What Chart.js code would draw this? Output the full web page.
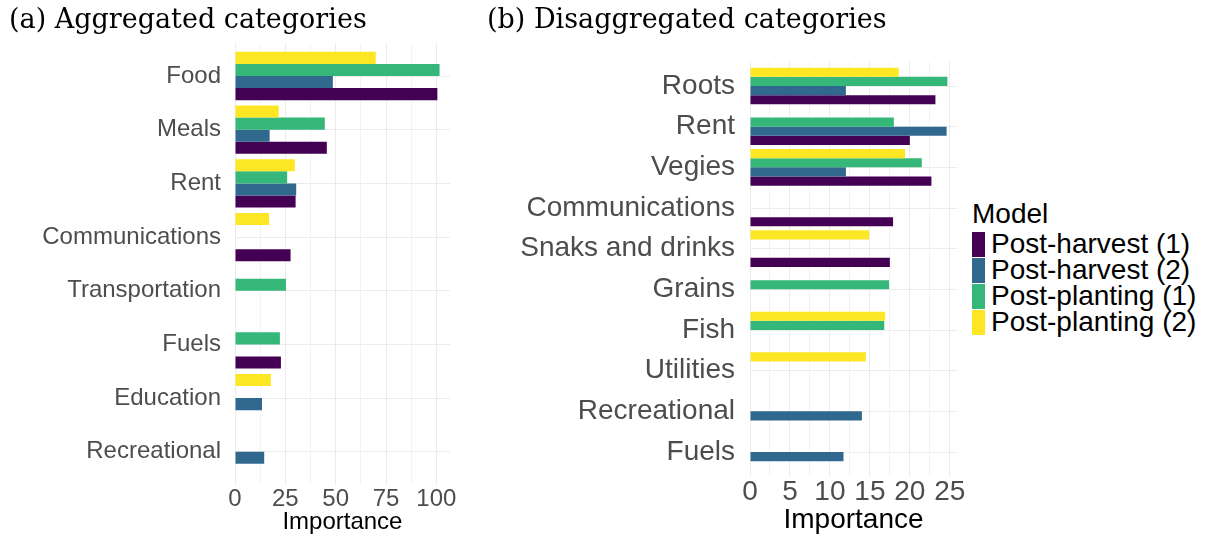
<!DOCTYPE html>
<html>
<head>
<meta charset="utf-8">
<script src="https://cdn.jsdelivr.net/npm/chart.js@4.4.1/dist/chart.umd.min.js"></script>
<style>
html, body { margin: 0; padding: 0; background: #fff; }
body { width: 1207px; height: 535px; position: relative; overflow: hidden; font-family: "Liberation Sans", Arial, sans-serif; }
#panelA { position: absolute; left: 9px; top: 0; }
#panelB { position: absolute; left: 487px; top: 0; }
#legend { position: absolute; left: 972px; top: 199px; color: #000; }
#legend .ttl { font-size: 28px; line-height: 30px; margin-bottom: 2px; }
#legend .row { height: 26px; line-height: 26px; font-size: 28px; display: flex; align-items: center; white-space: nowrap; }
#legend .key { width: 13px; height: 25px; margin-right: 6px; }
</style>
</head>
<body>
<canvas id="panelA" width="451" height="535"></canvas>
<canvas id="panelB" width="483" height="535"></canvas>
<div id="legend"></div>
<script>
// series, in legend order
const seriesNames = ["Post-harvest (1)", "Post-harvest (2)", "Post-planting (1)", "Post-planting (2)"];
const seriesColors = ["#440154", "#31688E", "#35B779", "#FDE725"];

// (a) aggregated
const aggCategories = ["Food", "Meals", "Rent", "Communications", "Transportation", "Fuels", "Education", "Recreational"];
const aggHarvest1  = [100.5, 45.6, 30.1, 27.6, null, 22.8, null, null];
const aggHarvest2  = [48.6, 17.2, 30.4, null, null, null, 13.4, 14.5];
const aggPlanting1 = [101.6, 44.6, 25.9, null, 25.3, 22.3, null, null];
const aggPlanting2 = [69.9, 21.7, 29.7, 16.9, null, null, 17.8, null];
const aggTicks = [0, 25, 50, 75, 100];

// (b) disaggregated
const disCategories = ["Roots", "Rent", "Vegies", "Communications", "Snaks and drinks", "Grains", "Fish", "Utilities", "Recreational", "Fuels"];
const disHarvest1  = [23.2, 20.0, 22.7, 17.9, 17.5, null, null, null, null, null];
const disHarvest2  = [12.0, 24.6, 12.0, null, null, null, null, null, 14.0, 11.7];
const disPlanting1 = [24.7, 18.0, 21.5, null, null, 17.4, 16.8, null, null, null];
const disPlanting2 = [18.6, null, 19.4, null, 14.9, null, 16.9, 14.5, null, null];
const disTicks = [0, 5, 10, 15, 20, 25];

const tickGrey = "#4d4d4d";
const gridMajor = "#ebebeb";
const gridMinor = "#f3f3f3";

// legend
const legend = document.getElementById("legend");
legend.innerHTML = '<div class="ttl">Model</div>' + seriesNames.map((n, i) =>
    `<div class="row"><span class="key" style="background:${seriesColors[i]}"></span>${n}</div>`).join("");

function makeChart(id, p) {
    // top-to-bottom inside a group: Post-planting (2), Post-planting (1), Post-harvest (2), Post-harvest (1)
    const datasets = [3, 2, 1, 0].map(s => ({
        label: seriesNames[s],
        backgroundColor: seriesColors[s],
        borderWidth: 0,
        categoryPercentage: 0.9,
        barPercentage: 1,
        data: p.values[s].map((v, i) => v == null ? null : { x: v, y: i }).filter(d => d)
    }));
    const minorStep = p.labels[1] / 2;
    const n = p.cats.length;

    return new Chart(document.getElementById(id), {
        type: 'bar',
        data: { datasets },
        options: {
            indexAxis: 'y',
            responsive: false,
            animation: false,
            layout: { padding: { right: p.padRight } },
            plugins: {
                legend: { display: false },
                tooltip: { enabled: false },
                title: {
                    display: true,
                    text: p.title,
                    align: 'start',
                    color: '#000',
                    font: { family: "'DejaVu Serif', serif", size: 27, weight: 'normal', lineHeight: 1.2 },
                    padding: { top: 5, bottom: p.titleGap }
                }
            },
            scales: {
                y: {
                    type: 'linear',
                    reverse: true,
                    offset: false,
                    min: -0.6,
                    max: n - 0.4,
                    afterFit: s => { s.width = p.yWidth; },
                    afterBuildTicks: s => { s.ticks = p.cats.map((c, i) => ({ value: i })); },
                    border: { display: false },
                    grid: { color: gridMajor, drawTicks: false, offset: false },
                    ticks: {
                        autoSkip: false,
                        padding: p.yPad,
                        color: tickGrey,
                        font: { family: "'Liberation Sans', Arial, sans-serif", size: p.font },
                        callback: v => p.cats[v]
                    }
                },
                x: {
                    type: 'linear',
                    min: 0,
                    max: p.xMax,
                    afterFit: s => { s.height = p.xHeight; },
                    afterBuildTicks: s => {
                        const t = [];
                        for (let v = 0; v <= p.labels[p.labels.length - 1]; v += minorStep) t.push({ value: v });
                        s.ticks = t;
                    },
                    border: { display: false },
                    grid: {
                        drawTicks: false,
                        color: c => (p.labels.includes(c.tick.value) ? gridMajor : gridMinor)
                    },
                    ticks: {
                        autoSkip: false,
                        maxRotation: 0,
                        padding: p.xPad,
                        color: tickGrey,
                        font: { family: "'Liberation Sans', Arial, sans-serif", size: p.font, lineHeight: 1 },
                        callback: v => (p.labels.includes(v) ? String(v) : '')
                    },
                    title: {
                        display: true,
                        text: 'Importance',
                        color: '#000',
                        padding: 0,
                        font: { family: "'Liberation Sans', Arial, sans-serif", size: p.font, lineHeight: 1.05 }
                    }
                }
            }
        }
    });
}

makeChart('panelA', {
    title: '(a) Aggregated categories',
    cats: aggCategories,
    values: [aggHarvest1, aggHarvest2, aggPlanting1, aggPlanting2],
    labels: aggTicks,
    xMax: 106.7,
    font: 24,
    yWidth: 226,
    yPad: 14,
    titleGap: 6.4,
    xHeight: 51,
    xPad: 3,
    padRight: 10
});

makeChart('panelB', {
    title: '(b) Disaggregated categories',
    cats: disCategories,
    values: [disHarvest1, disHarvest2, disPlanting1, disPlanting2],
    labels: disTicks,
    xMax: 25.9,
    font: 28,
    yWidth: 263,
    yPad: 15,
    titleGap: 24.2,
    xHeight: 58.6,
    xPad: 2,
    padRight: 13
});
</script>
</body>
</html>
